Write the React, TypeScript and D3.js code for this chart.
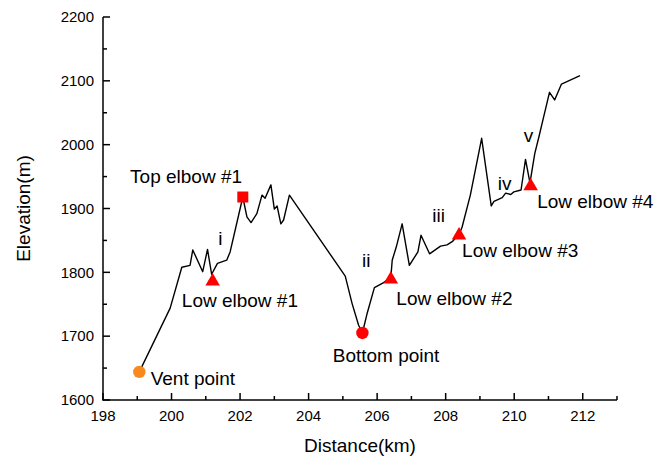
import React from "react";
import * as d3 from "d3";

// Elevation profile (distance km, elevation m)
const distanceKm = [
  199.06, 199.96, 200.3, 200.54, 200.62, 200.91, 201.05, 201.17, 201.34, 201.61, 201.71,
  202.08, 202.2, 202.32, 202.49, 202.64, 202.73, 202.9, 203.0, 203.08, 203.19, 203.27, 203.44,
  205.07, 205.27, 205.46, 205.57, 205.71, 205.92, 206.19, 206.4, 206.44, 206.56, 206.73,
  206.94, 207.19, 207.28, 207.53, 207.85, 208.04, 208.19, 208.4, 208.48, 208.72, 209.05,
  209.33, 209.41, 209.65, 209.75, 209.9, 209.99, 210.2, 210.33, 210.46, 210.6, 210.72,
  210.87, 211.03, 211.18, 211.38, 211.92,
];
const elevationM = [
  1644, 1744, 1808, 1811, 1835, 1801, 1836, 1797, 1814, 1819, 1832,
  1918, 1887, 1878, 1892, 1921, 1916, 1937, 1899, 1904, 1876, 1882, 1921,
  1794, 1751, 1717, 1705, 1736, 1776, 1784, 1792, 1819, 1840, 1876,
  1811, 1832, 1858, 1829, 1841, 1843, 1848, 1860, 1871, 1921, 2010,
  1904, 1911, 1917, 1924, 1922, 1926, 1929, 1977, 1940, 1986, 2012,
  2046, 2082, 2070, 2095, 2108,
];

// Key points
const pointNames = ["Vent point", "Top elbow #1", "Low elbow #1", "Bottom point", "Low elbow #2", "Low elbow #3", "Low elbow #4"];
const pointKind = ["vent", "top", "low", "bottom", "low", "low", "low"];
const pointX = [199.06, 202.08, 201.2, 205.57, 206.4, 208.39, 210.48];
const pointY = [1644, 1918, 1787, 1705, 1790, 1859, 1936];

// Annotation texts anchored in data coordinates
const labelTexts = ["Vent point", "Top elbow #1", "Low elbow #1", "i", "Bottom point", "ii", "Low elbow #2", "iii", "Low elbow #3", "iv", "v", "Low elbow #4"];
const labelX = [199.39, 198.79, 200.3, 201.36, 206.26, 205.56, 206.56, 207.61, 208.48, 209.52, 210.28, 210.67];
const labelY = [1623.5, 1940, 1746, 1843, 1660, 1808.4, 1748.8, 1879.3, 1824, 1929, 2004.7, 1900.8];
const labelAnchor = ["start", "start", "start", "start", "middle", "start", "start", "start", "start", "start", "start", "start"];

const xMajorTicks = [198, 200, 202, 204, 206, 208, 210, 212];
const xMinorTicks = [199, 201, 203, 205, 207, 209, 211, 213];
const yMajorTicks = [1600, 1700, 1800, 1900, 2000, 2100, 2200];
const yMinorTicks = [1650, 1750, 1850, 1950, 2050, 2150];

const W = 667;
const H = 460;
const FONT = "Arial, 'Liberation Sans', Helvetica, sans-serif";

export default function App() {
  const x = d3.scaleLinear().domain([198, 213]).range([103, 617]);
  const y = d3.scaleLinear().domain([1600, 2200]).range([400, 17]);

  const pts: [number, number][] = distanceKm.map((d, i) => [d, elevationM[i]]);
  const line = d3
    .line<[number, number]>()
    .x((d) => x(d[0]))
    .y((d) => y(d[1]));

  const x0 = x(198);
  const y0 = y(1600);

  const marker = (kind: string, px: number, py: number, i: number) => {
    if (kind === "vent") return <circle key={i} cx={px} cy={py} r={6.2} fill="#F7891F" />;
    if (kind === "bottom") return <circle key={i} cx={px} cy={py} r={6.2} fill="#FF0000" />;
    if (kind === "top") return <rect key={i} x={px - 5.5} y={py - 5.5} width={11} height={11} fill="#FF0000" />;
    const w = 14.5;
    const h = 12.5;
    const p = `M${px},${py - h * 0.62}L${px + w / 2},${py + h * 0.38}L${px - w / 2},${py + h * 0.38}Z`;
    return <path key={i} d={p} fill="#FF0000" />;
  };

  return (
    <svg width={W} height={H} style={{ position: "absolute", left: 0, top: 0, background: "#fff" }} fontFamily={FONT}>
      <path d={line(pts) || ""} fill="none" stroke="#000" strokeWidth={1.4} strokeLinejoin="round" />

      {pointKind.map((k, i) => marker(k, x(pointX[i]), y(pointY[i]), i))}

      {labelTexts.map((t, i) => (
        <text key={t + i} x={x(labelX[i])} y={y(labelY[i])} fontSize={19} textAnchor={labelAnchor[i]} fill="#000">
          {t}
        </text>
      ))}

      {/* axes */}
      <g stroke="#000" strokeWidth={1.5} fill="none">
        <line x1={x0} y1={y0} x2={x(213)} y2={y0} />
        <line x1={x0} y1={y0 + 0.75} x2={x0} y2={y(2200)} />
        {xMajorTicks.map((t) => (
          <line key={"xM" + t} x1={x(t)} x2={x(t)} y1={y0} y2={y0 - 7} />
        ))}
        {xMinorTicks.map((t) => (
          <line key={"xm" + t} x1={x(t)} x2={x(t)} y1={y0} y2={y0 - 4} />
        ))}
        {yMajorTicks.map((t) => (
          <line key={"yM" + t} x1={x0} x2={x0 + 7} y1={y(t)} y2={y(t)} />
        ))}
        {yMinorTicks.map((t) => (
          <line key={"ym" + t} x1={x0} x2={x0 + 4} y1={y(t)} y2={y(t)} />
        ))}
      </g>
      <g fontSize={15} fill="#000">
        {xMajorTicks.map((t) => (
          <text key={"xl" + t} x={x(t)} y={y0 + 21} textAnchor="middle">
            {t}
          </text>
        ))}
        {yMajorTicks.map((t) => (
          <text key={"yl" + t} x={x0 - 9} y={y(t) + 5.3} textAnchor="end">
            {t}
          </text>
        ))}
      </g>
      <text x={(x0 + x(213)) / 2} y={452} fontSize={19} textAnchor="middle">
        Distance(km)
      </text>
      <text transform={`translate(30,${(y0 + y(2200)) / 2}) rotate(-90)`} fontSize={19} textAnchor="middle">
        Elevation(m)
      </text>
    </svg>
  );
}
